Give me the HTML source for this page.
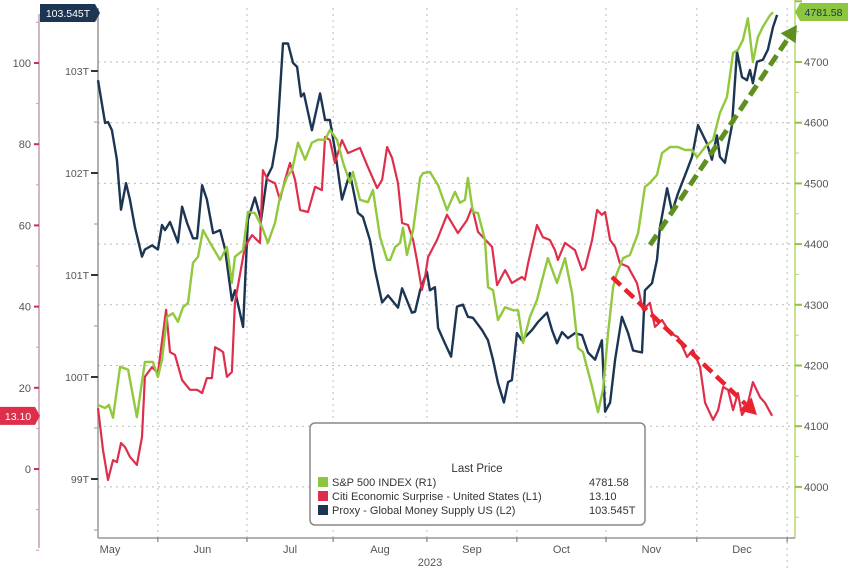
<!DOCTYPE html>
<html><head><meta charset="utf-8"><style>
html,body{margin:0;padding:0;background:#fff;}
svg{display:block;font-family:"Liberation Sans",sans-serif;}
</style></head><body>
<svg id="chart" width="848" height="571" viewBox="0 0 848 571" xmlns="http://www.w3.org/2000/svg"></svg>
<script>
// ---- data (day offsets from ~May 12, 2023) ----
const spxDays=[0,2.4,3.7,5.1,7.5,10.2,13.2,15.9,18.6,20.3,21.7,23.4,25.4,27.1,28.8,30.5,32.2,33.9,35.6,38,41.4,43.7,45.4,46.4,49.2,50.8,53.2,55.6,57.6,60,61.7,64.1,65.8,67.8,70.2,72.5,74.6,77,78.6,81,83.1,85.4,86.4,88.8,91.5,93.2,95.6,98,99,100.7,102.4,103.4,104.7,106.8,109.2,110.2,112.5,115.3,118.3,121,122.7,124.4,125.4,127.1,128.8,131.2,132.2,133.9,135.6,138,140.7,142.4,144.1,146.4,148.8,150.8,152.5,155.6,158.3,160.7,162.7,164.4,167.5,169.5,171.2,172.9,174.6,175.9,178,180.3,183.1,185.4,187.1,189.5,191.2,193.9,196.6,199,201.4,203.1,205.8,208.5,210.8,213.2,215.3,216.9,218.6,220.3,222,223.7,225.4,227.8,228.8];
const spxValues=[4135,4130,4135,4114,4198,4193,4115,4206,4206,4181,4209,4280,4286,4272,4296,4303,4369,4379,4423,4402,4374,4395,4336,4379,4390,4453,4451,4428,4402,4435,4478,4511,4522,4567,4539,4567,4572,4572,4588,4572,4534,4501,4519,4473,4469,4489,4412,4374,4374,4395,4402,4427,4382,4423,4509,4517,4519,4497,4456,4486,4468,4473,4509,4453,4451,4407,4329,4324,4275,4296,4291,4291,4237,4280,4308,4346,4377,4336,4377,4319,4229,4222,4165,4123,4160,4254,4329,4352,4377,4382,4418,4494,4501,4514,4550,4560,4560,4555,4555,4543,4560,4572,4616,4642,4715,4720,4736,4772,4700,4741,4758,4777,4782];
const citiDays=[0,1.7,3.4,5.1,6.4,7.8,9.2,10.8,13.2,14.9,15.9,18.3,20.3,23.1,24.4,26.1,28.5,31.2,33.6,35.3,36.9,38.6,39.7,41.4,42.4,43.7,45.4,46.4,49.8,52.2,54.9,55.9,57.6,60,61.7,63.4,65.1,66.8,68.5,71.2,73.6,75.9,77,78.6,80.3,82.7,84.7,88.8,91.2,94.6,96.3,98,99.7,101.7,103.1,105.1,106.8,108.1,109.8,110.8,111.9,114.9,118.3,122,125.1,126.8,128.8,133.6,135.3,138,140.3,143.7,144.7,145.8,148.8,150.8,153.2,154.9,155.9,158.3,161.7,164.1,165.1,167.5,169.2,170.8,171.9,173.6,175.3,176.9,179.7,182.7,184.7,187.1,188.8,191.2,193.9,196.6,199.7,201.7,204.1,205.8,208.5,210.2,211.9,213.6,215.3,216.9,218.3,220,222,224.4,226.1,228.5];
const citiValues=[15,4.7,-2.7,2.2,1.7,6.4,5.4,3,1,7.9,22.7,25.1,23.6,39.2,28.8,28.1,21.9,19.5,19.5,18.7,22.4,22.4,30,29.3,28.8,22.7,23.9,40.9,54.7,57.6,55.7,73.6,71.2,70.4,66.3,71.2,75.4,71.2,63.8,63.3,69.5,68.7,81.8,81,75.4,81,77.8,79.1,74.9,69.2,71.2,79.3,76.6,70.4,60.6,60.1,56.4,51.5,44.1,47,52.2,56.4,62.6,58.1,61.3,64.5,58.4,54.7,45.3,49,45.8,47.3,46.6,50.7,60.1,57.1,56.4,53.9,51.5,55.7,53.9,49,49.5,56.4,63.8,62.6,63.3,56.4,54.7,50.7,49.8,45.8,39.2,40.9,35,36.7,33.5,32.5,27.6,29.3,25.1,16.3,12.1,14.5,20.2,19.5,14.5,18.7,13.3,15.3,21.4,17.7,16.3,13.1];
const m2Days=[0,2.4,3.4,4.7,6.4,7.8,9.5,10.8,12.5,14.9,15.9,18.3,20.3,21.7,22.7,24.4,27.1,28.5,30.2,32.2,33.6,35.3,36.9,39,41.4,43.1,45.4,46.4,49.2,50.8,53.2,55.3,57.3,59,60.7,62.7,64.4,66.1,67.5,68.8,69.8,72.5,75.3,77,78.6,80.3,82.7,85.4,88.1,89.8,92.2,93.9,96.3,98.3,101.7,103.1,106.4,107.5,109.2,111.5,112.5,114.2,115.3,117.6,119.7,121.7,123.7,125.4,127.1,130.2,132.2,133.9,135.6,137.6,139,140.3,142,143.7,147.1,149.2,152.2,153.9,155.6,157.3,159.3,161.7,164.1,166.1,168.5,170.8,171.9,173.6,175.3,177.6,179.7,181.4,184.4,185.4,187.8,189.5,190.5,192.9,194.6,196.6,199.7,201.4,203.4,206.4,208.1,209.8,210.8,212.5,214.9,216.6,218.3,220,221,222,223.4,225.4,227.1,228.8,230.2];
const m2Values=[102.91,102.49,102.5,102.42,102.13,101.64,101.9,101.74,101.47,101.18,101.25,101.29,101.25,101.49,101.44,101.52,101.32,101.67,101.51,101.36,101.36,101.88,101.74,101.41,101.44,101.25,100.75,100.85,100.49,101.54,101.76,101.54,101.96,102.06,102.35,103.27,103.27,103.08,103.04,102.75,102.78,102.42,102.78,102.52,102.52,102.23,101.74,102,101.61,101.57,101.34,101.05,100.73,100.8,100.68,100.87,100.63,100.64,100.85,101.03,100.85,100.88,100.48,100.33,100.2,100.69,100.71,100.59,100.58,100.46,100.36,100.17,99.94,99.75,99.95,99.97,100.43,100.36,100.46,100.54,100.63,100.46,100.33,100.44,100.38,100.43,100.41,100.24,100.17,100.36,99.66,99.75,100.17,100.59,100.43,100.26,100.24,100.85,100.92,101.15,101.47,101.85,101.62,101.8,102.03,102.16,102.47,102.29,102.13,102.37,102.16,102.1,102.47,103.19,102.94,102.91,103.01,102.88,103.09,103.11,103.21,103.43,103.55];
const monthBounds=[20.3,50.5,79.7,111.5,142,172.2,203,233.6];
const monthLabels=["May","Jun","Jul","Aug","Sep","Oct","Nov","Dec"];
const citiTicks=[0,20,40,60,80,100];
const m2Ticks=[99,100,101,102,103];
const spxTicks=[4000,4100,4200,4300,4400,4500,4600,4700];

// ---- scales ----
const X0=98, XR=795, YB=538;
const xS=d=>98+d*2.95;
const ySpx=v=>62+(4700-v)*0.607;
const yCiti=v=>469-v*4.06;
const yM2=v=>71+(103-v)*102;

const svg=document.getElementById('chart');
const NS='http://www.w3.org/2000/svg';
function mk(tag,attrs,parent){const e=document.createElementNS(NS,tag);for(const k in attrs)e.setAttribute(k,attrs[k]);(parent||svg).appendChild(e);return e;}

// gridlines
const grid=mk('g',{});


spxTicks.forEach(t=>{const l=mk('line',{x1:X0,x2:XR,y1:ySpx(t),y2:ySpx(t),stroke:'#bbb','stroke-dasharray':'2,4','stroke-width':1},grid);

});
monthBounds.forEach((d,i)=>{const l=mk('line',{x1:xS(d),x2:xS(d),y1:8,y2:(i==monthBounds.length-1?571:YB),stroke:'#bbb','stroke-dasharray':'2,4','stroke-width':1},grid);

});

// axes
const ax=mk('g',{'font-size':11,fill:'#555'});


mk('line',{x1:39,x2:39,y1:14,y2:548,stroke:'#c7a0aa','stroke-width':1.5},ax);
for(let v=-20;v<=110;v+=10){const y=yCiti(v);const major=v%20==0&&v>=0&&v<=100;mk('line',{x1:major?34:36,x2:39,y1:y,y2:y,stroke:major?'#c33355':'#c7a0aa','stroke-width':major?2:1},ax);}
citiTicks.forEach(t=>{const e=mk('text',{x:31,y:yCiti(t)+4,'text-anchor':'end'},ax);e.textContent=t;

});
mk('line',{x1:X0,x2:X0,y1:8,y2:YB,stroke:'#999','stroke-width':1.5},ax);
for(let v=98.5;v<=103.5;v+=0.5){const y=yM2(v);if(y<8||y>YB)continue;const major=Number.isInteger(v);mk('line',{x1:major?91:94,x2:X0,y1:y,y2:y,stroke:major?'#333':'#999','stroke-width':major?2:1},ax);}
m2Ticks.forEach(t=>{const e=mk('text',{x:89,y:yM2(t)+4,'text-anchor':'end','font-size':10.5},ax);e.textContent=t+'T';

});
mk('line',{x1:XR,x2:XR,y1:0,y2:YB,stroke:'#b9d56e','stroke-width':1.5},ax);
for(let v=3950;v<=4800;v+=50){const y=ySpx(v);if(y<0||y>YB)continue;const major=v%100==0;mk('line',{x1:XR,x2:major?802:799,y1:y,y2:y,stroke:major?'#8cc63f':'#b9d56e','stroke-width':major?2:1},ax);}
spxTicks.forEach(t=>{const e=mk('text',{x:804,y:ySpx(t)+4},ax);e.textContent=t;

});
mk('line',{x1:X0,x2:XR,y1:YB,y2:YB,stroke:'#999','stroke-width':1.5},ax);
monthBounds.forEach(d=>mk('line',{x1:xS(d),x2:xS(d),y1:YB,y2:YB+4,stroke:'#666'},ax));
monthLabels.forEach((m,i)=>{const a=i==0?0:monthBounds[i-1];const b=monthBounds[i];const cx=i==0?110:(xS(a)+xS(b))/2;
const e=mk('text',{x:cx,y:553,'text-anchor':'middle'},ax);e.textContent=m;

});
const yr=mk('text',{x:430,y:566,'text-anchor':'middle'},ax);yr.textContent='2023';



// series
function line(days,vals,ys,color,name,w){const p=days.map((d,i)=>xS(d).toFixed(1)+','+ys(vals[i]).toFixed(1)).join(' ');
const e=mk('polyline',{points:p,fill:'none',stroke:color,'stroke-width':w,'stroke-linejoin':'round'});

}
line(m2Days,m2Values,yM2,'#1c3553','money-supply-line',2.4);
line(citiDays,citiValues,yCiti,'#dd2f4c','citi-surprise-line',2.2);
line(spxDays,spxValues,ySpx,'#92c83e','sp500-line',2.4);

// arrows
function arrow(x1,y1,x2,y2,color,w,name){const g=mk('g',{});


const ang=Math.atan2(y2-y1,x2-x1);const hl=16;const bx=x2-hl*Math.cos(ang),by=y2-hl*Math.sin(ang);
mk('line',{x1:x1,y1:y1,x2:bx,y2:by,stroke:color,'stroke-width':w,'stroke-dasharray':'12,6'},g);
const px=Math.sin(ang)*9,py=-Math.cos(ang)*9;
mk('polygon',{points:`${x2},${y2} ${bx+px},${by+py} ${bx-px},${by-py}`,fill:color},g);}
arrow(650,245,797,25,'#5e8f1f',5,'uptrend-arrow');
arrow(612,277,757,415,'#e8232e',4.5,'downtrend-arrow');

// last price tags
function tag(x,y,w,txt,bg,fg,name,pointRight){const g=mk('g',{});


const pts=pointRight?`${x},${y-9} ${x+w-5},${y-9} ${x+w},${y} ${x+w-5},${y+9} ${x},${y+9}`:`${x},${y} ${x+5},${y-9} ${x+w},${y-9} ${x+w},${y+9} ${x+5},${y+9}`;
mk('polygon',{points:pts,fill:bg},g);
const t=mk('text',{x:x+w/2+(pointRight?-2:2),y:y+4,'text-anchor':'middle','font-size':10.5,fill:fg},g);t.textContent=txt;}
tag(40,13,60,'103.545T','#1c3553','#fff','m2-last-tag',true);
tag(0,yCiti(13.1),40,'13.10','#dd2f4c','#fff','citi-last-tag',true);
tag(795,12,53,'4781.58','#8cc63f','#1c3553','spx-last-tag',false);

// legend
const lg=mk('g',{'font-size':11,fill:'#333'});


mk('rect',{x:310,y:423,width:335,height:102,rx:5,fill:'#fff',stroke:'#888','stroke-width':1.5},lg);
const lt=mk('text',{x:477,y:472,'text-anchor':'middle','font-size':11.5},lg);lt.textContent='Last Price';
const entries=[['S&P 500 INDEX  (R1)','4781.58','#8cc63f','legend-entry-sp500'],['Citi Economic Surprise - United States  (L1)','13.10','#dd2f4c','legend-entry-citi'],['Proxy - Global Money Supply US  (L2)','103.545T','#1c3553','legend-entry-money-supply']];
entries.forEach((e,i)=>{const y=486+i*14;const g=mk('g',{},lg);


mk('rect',{x:318,y:y-9,width:10,height:10,fill:e[2]},g);
const a=mk('text',{x:332,y:y},g);a.textContent=e[0];
const b=mk('text',{x:589,y:y},g);b.textContent=e[1];});
</script>
</body></html>
